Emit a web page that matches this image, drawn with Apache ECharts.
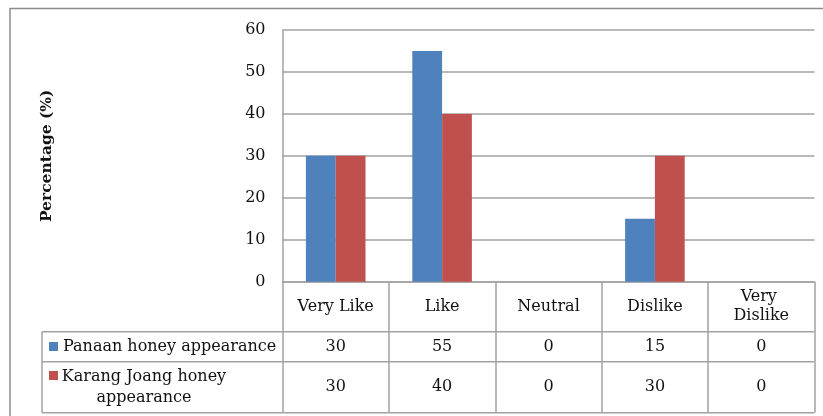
<!DOCTYPE html>
<html>
<head>
<meta charset="utf-8">
<script src="https://cdn.jsdelivr.net/npm/echarts@6/dist/echarts.min.js"></script>
<style>
  html, body { margin: 0; padding: 0; background: #fff; }
  #chart { width: 823px; height: 416px; }
</style>
</head>
<body>
<div id="chart"></div>
<script>
// Survey categories and the share of panelists (%) choosing each one
const categories = ['Very Like', 'Like', 'Neutral', 'Dislike', 'Very Dislike'];
const panaan = [30, 55, 0, 15, 0];
const karang = [30, 40, 0, 30, 0];
const seriesNames = ['Panaan honey appearance', 'Karang Joang honey appearance'];
const yMin = 0, yMax = 60, yStep = 10;
const yTitle = 'Percentage (%)';

// Layout and styling
const FONT = 'DejaVu Serif';
const TEXT = '#111';
const LINE = '#a2a2a2';
const W = 823, H = 416;
const GRID = { left: 282.5, right: 8.5, top: 30, bottom: 134.3 };
const axisY = H - GRID.bottom;          // bottom of plot / top of the data table
const row1Top = 331.7, row2Top = 361.7, tableBottom = 412.7, tableLeft = 42;
const tableRight = W - GRID.right;
const colors = ['#4f81bd', '#c0504d'];

const chart = echarts.init(document.getElementById('chart'), null, { renderer: 'canvas' });

const rowAxis = (values, centerY) => ({
  type: 'category',
  data: categories,
  gridIndex: 0,
  position: 'bottom',
  offset: 0,
  axisLine: { show: false },
  axisTick: { show: false },
  splitLine: { show: false },
  axisLabel: {
    interval: 0,
    margin: centerY - axisY,
    verticalAlign: 'middle',
    fontFamily: FONT, fontSize: 16, color: TEXT,
    formatter: (v, i) => String(values[i])
  }
});

const option = {
  animation: false,
  backgroundColor: '#fff',
  grid: {
    left: GRID.left, right: GRID.right, top: GRID.top, bottom: GRID.bottom,
    containLabel: false, outerBoundsMode: 'none'
  },
  xAxis: [
    {
      type: 'category',
      data: categories,
      boundaryGap: true,
      axisLine: { show: true, lineStyle: { color: LINE, width: 1.5 } },
      axisTick: {
        show: true, interval: 0, inside: false,
        length: tableBottom - axisY,
        lineStyle: { color: LINE, width: 1.5 }
      },
      splitLine: { show: false },
      axisLabel: {
        interval: 0, margin: (axisY + row1Top) / 2 - axisY,
        verticalAlign: 'middle', align: 'center',
        width: 96, overflow: 'break', lineHeight: 19,
        fontFamily: FONT, fontSize: 16, color: TEXT
      }
    },
    rowAxis(panaan, (row1Top + row2Top) / 2),
    rowAxis(karang, (row2Top + tableBottom) / 2)
  ],
  yAxis: {
    type: 'value',
    min: yMin, max: yMax, interval: yStep,
    axisLine: { show: true, lineStyle: { color: LINE, width: 1.5 } },
    axisTick: { show: false },
    splitLine: { show: true, lineStyle: { color: LINE, width: 1.5 } },
    axisLabel: { margin: 17, fontFamily: FONT, fontSize: 16, color: TEXT },
    name: yTitle,
    nameLocation: 'middle',
    nameGap: 228,
    nameRotate: 90,
    nameTextStyle: { fontFamily: FONT, fontSize: 15.5, fontWeight: 'bold', color: TEXT }
  },
  series: [
    {
      name: seriesNames[0], type: 'bar', xAxisIndex: 0, data: panaan,
      barGap: '0%', barCategoryGap: '44%',
      itemStyle: { color: colors[0] }
    },
    {
      name: seriesNames[1], type: 'bar', xAxisIndex: 0, data: karang,
      barGap: '0%', barCategoryGap: '44%',
      itemStyle: { color: colors[1] }
    }
  ],
  graphic: [
    // outer chart frame
    { type: 'polyline', silent: true,
      shape: { points: [[10, H + 5], [10, 8.5], [W + 5, 8.5]] },
      style: { stroke: '#8c8c8c', lineWidth: 1.5, fill: null } },
    // data table rules
    { type: 'line', silent: true, shape: { x1: tableLeft, y1: row1Top, x2: tableRight, y2: row1Top },
      style: { stroke: LINE, lineWidth: 1.5 } },
    { type: 'line', silent: true, shape: { x1: tableLeft, y1: row2Top, x2: tableRight, y2: row2Top },
      style: { stroke: LINE, lineWidth: 1.5 } },
    { type: 'line', silent: true, shape: { x1: tableLeft, y1: tableBottom, x2: tableRight, y2: tableBottom },
      style: { stroke: LINE, lineWidth: 1.5 } },
    { type: 'line', silent: true, shape: { x1: tableLeft, y1: row1Top, x2: tableLeft, y2: tableBottom },
      style: { stroke: LINE, lineWidth: 1.5 } },
    // series keys inside the table
    { type: 'rect', silent: true, shape: { x: 49, y: 342, width: 9, height: 9 },
      style: { fill: colors[0] } },
    { type: 'text', silent: true, x: 63, y: (row1Top + row2Top) / 2,
      style: { text: seriesNames[0], fontFamily: FONT, fontSize: 16, fill: TEXT,
               align: 'left', verticalAlign: 'middle' } },
    { type: 'rect', silent: true, shape: { x: 49, y: 371, width: 9, height: 9 },
      style: { fill: colors[1] } },
    { type: 'text', silent: true, x: 144, y: (row2Top + tableBottom) / 2,
      style: { text: 'Karang Joang honey\nappearance', fontFamily: FONT, fontSize: 16, fill: TEXT,
               align: 'center', verticalAlign: 'middle', lineHeight: 21 } }
  ]
};

chart.setOption(option);
</script>
</body>
</html>
